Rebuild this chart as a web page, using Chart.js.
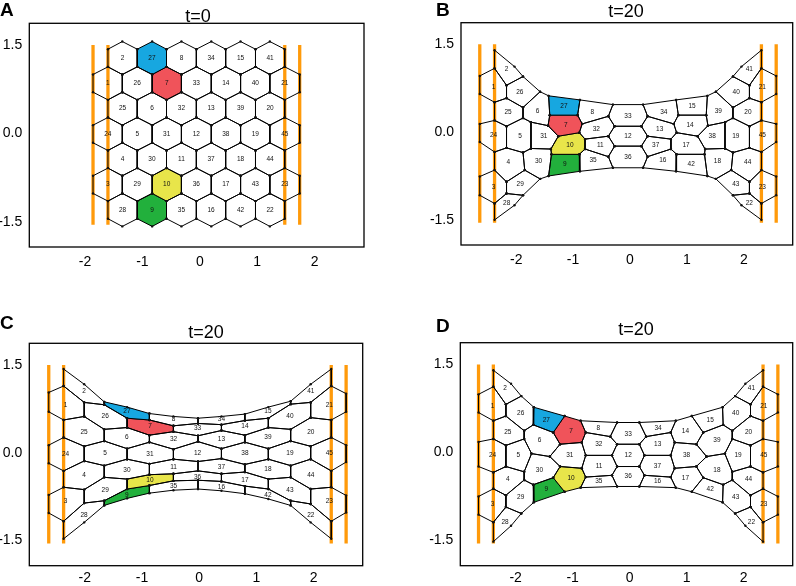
<!DOCTYPE html>
<html>
<head>
<meta charset="utf-8">
<script src="https://cdn.jsdelivr.net/npm/chart.js@4.4.1/dist/chart.umd.min.js"></script>
<style>
  body { margin: 0; background: #fff; width: 796px; height: 586px; position: relative; overflow: hidden;
         font-family: "Liberation Sans", Arial, Helvetica, sans-serif; }
  canvas { position: absolute; }
  .letter { position: absolute; font-weight: bold; font-size: 19px; line-height: 1; }
  .title { position: absolute; font-size: 18px; line-height: 1; transform: translateX(-50%); white-space: nowrap; }
</style>
</head>
<body>
<canvas id="chartA" width="396" height="293" style="left:0;top:0;width:396px;height:293px"></canvas>
<canvas id="chartB" width="400" height="293" style="left:396px;top:0;width:400px;height:293px"></canvas>
<canvas id="chartC" width="396" height="293" style="left:0;top:293px;width:396px;height:293px"></canvas>
<canvas id="chartD" width="400" height="293" style="left:396px;top:293px;width:400px;height:293px"></canvas>

<div class="letter" style="left:0;top:-0.5px">A</div>
<div class="letter" style="left:436px;top:-0.5px">B</div>
<div class="letter" style="left:0;top:312.5px">C</div>
<div class="letter" style="left:436px;top:315.5px">D</div>
<div class="title" style="left:198px;top:7px">t=0</div>
<div class="title" style="left:626px;top:1.5px">t=20</div>
<div class="title" style="left:206px;top:323px">t=20</div>
<div class="title" style="left:636px;top:320px">t=20</div>

<script>
// axes, shared by the four panels
const xTicks = [-2, -1, 0, 1, 2];
const yTicks = [-1.5, 0, 1.5];
const xRange = [-2.97, 2.86];
const yRange = [-1.93, 1.87];

// orange walls: x positions, common vertical extent
const wallTop = 1.5, wallBottom = -1.55;
const aWalls = [-1.86, -1.60, 1.48, 1.74];
const bWalls = [-2.64, -2.38, 2.31, 2.57];
const cWalls = [-2.63, -2.37, 2.31, 2.57];
const dWalls = [-2.65, -2.39, 2.34, 2.60];

// tracked cells
const markedCells = [27, 7, 10, 9];
const markedColors = ['#17a7e0', '#f0535a', '#e8e54a', '#22b03c'];

// cell numbers of the hexagonal lattice, row by row (panels A and C)
const rowLabels = [
  [2, 27, 8, 34, 15, 41],
  [1, 26, 7, 33, 14, 40, 21],
  [25, 6, 32, 13, 39, 20],
  [24, 5, 31, 12, 38, 19, 45],
  [4, 30, 11, 37, 18, 44],
  [3, 29, 10, 36, 17, 43, 23],
  [28, 9, 35, 16, 42, 22]
];

// panel A, t=0: x of the 15 vertex columns, y of the 8 zigzag vertex lines
const aColX = [-1.86, -1.60, -1.35, -1.09, -0.83, -0.58, -0.32, -0.06, 0.20, 0.45, 0.71, 0.97, 1.22, 1.48, 1.74];
const aZig = [
  [null, 1.43, 1.56, 1.43, 1.56, 1.43, 1.56, 1.43, 1.56, 1.43, 1.56, 1.43, 1.56, 1.43, null],
  [1.00, 1.13, 1.00, 1.13, 1.00, 1.13, 1.00, 1.13, 1.00, 1.13, 1.00, 1.13, 1.00, 1.13, 1.00],
  [0.70, 0.57, 0.70, 0.57, 0.70, 0.57, 0.70, 0.57, 0.70, 0.57, 0.70, 0.57, 0.70, 0.57, 0.70],
  [0.14, 0.27, 0.14, 0.27, 0.14, 0.27, 0.14, 0.27, 0.14, 0.27, 0.14, 0.27, 0.14, 0.27, 0.14],
  [-0.16, -0.29, -0.16, -0.29, -0.16, -0.29, -0.16, -0.29, -0.16, -0.29, -0.16, -0.29, -0.16, -0.29, -0.16],
  [-0.72, -0.59, -0.72, -0.59, -0.72, -0.59, -0.72, -0.59, -0.72, -0.59, -0.72, -0.59, -0.72, -0.59, -0.72],
  [-1.02, -1.15, -1.02, -1.15, -1.02, -1.15, -1.02, -1.15, -1.02, -1.15, -1.02, -1.15, -1.02, -1.15, -1.02],
  [null, -1.45, -1.58, -1.45, -1.58, -1.45, -1.58, -1.45, -1.58, -1.45, -1.58, -1.45, -1.58, -1.45, null]
];

// panel C, t=20 (same lattice, stretched)
const cColX = [-2.63, -2.37, -2.01, -1.66, -1.26, -0.87, -0.45, -0.02, 0.39, 0.80, 1.21, 1.60, 1.95, 2.31, 2.57];
const cZig = [
  [null, 1.43, 1.17, 0.87, 0.78, 0.67, 0.62, 0.59, 0.62, 0.66, 0.78, 0.88, 1.17, 1.43, null],
  [1.03, 1.14, 0.86, 0.82, 0.59, 0.56, 0.46, 0.50, 0.48, 0.55, 0.59, 0.83, 0.86, 1.14, 1.01],
  [0.70, 0.56, 0.62, 0.40, 0.43, 0.30, 0.36, 0.29, 0.38, 0.30, 0.43, 0.40, 0.60, 0.56, 0.70],
  [0.13, 0.26, 0.11, 0.20, 0.07, 0.18, 0.06, 0.19, 0.07, 0.18, 0.07, 0.20, 0.11, 0.26, 0.13],
  [-0.18, -0.31, -0.14, -0.22, -0.11, -0.19, -0.11, -0.15, -0.10, -0.20, -0.11, -0.22, -0.11, -0.31, -0.16],
  [-0.72, -0.59, -0.63, -0.42, -0.45, -0.375, -0.36, -0.31, -0.36, -0.33, -0.45, -0.42, -0.62, -0.59, -0.73],
  [-1.03, -1.17, -0.86, -0.82, -0.62, -0.56, -0.48, -0.47, -0.49, -0.57, -0.62, -0.82, -0.875, -1.17, -1.02],
  [null, -1.47, -1.19, -0.90, -0.78, -0.69, -0.64, -0.62, -0.65, -0.70, -0.79, -0.90, -1.19, -1.47, null]
];

// panel B, t=20: cell numbers and polygon vertices (x, y, x, y, ...)
const bLabels = [2, 1, 26, 25, 24, 5, 6, 31, 30, 4, 3, 29, 28, 27, 7, 10, 9, 8, 32, 11, 35, 33, 12, 36,
  41, 21, 40, 20, 45, 19, 39, 38, 18, 44, 23, 43, 22, 15, 14, 17, 42, 34, 13, 37, 16];
const bCells = [
  [-2.38, 1.40, -2.03, 1.12, -1.88, 0.95, -2.17, 0.80, -2.38, 1.09],
  [-2.64, 0.96, -2.38, 1.09, -2.17, 0.80, -2.17, 0.58, -2.38, 0.51, -2.64, 0.65],
  [-2.17, 0.80, -1.88, 0.95, -1.58, 0.69, -1.88, 0.42, -2.17, 0.58],
  [-2.38, 0.51, -2.17, 0.58, -1.88, 0.42, -1.88, 0.24, -2.17, 0.10, -2.38, 0.20],
  [-2.64, 0.14, -2.38, 0.20, -2.17, 0.10, -2.17, -0.27, -2.38, -0.34, -2.64, -0.17],
  [-2.17, 0.10, -1.88, 0.24, -1.74, 0.17, -1.74, -0.28, -1.88, -0.35, -2.17, -0.27],
  [-1.58, 0.69, -1.43, 0.62, -1.41, 0.29, -1.44, 0.11, -1.74, 0.17, -1.88, 0.24, -1.88, 0.42],
  [-1.74, 0.17, -1.44, 0.11, -1.26, -0.07, -1.39, -0.29, -1.74, -0.28],
  [-1.74, -0.28, -1.39, -0.29, -1.38, -0.38, -1.43, -0.75, -1.58, -0.80, -1.85, -0.65, -1.88, -0.35],
  [-2.38, -0.34, -2.17, -0.27, -1.88, -0.35, -1.85, -0.65, -2.17, -0.85, -2.38, -0.65],
  [-2.64, -0.76, -2.38, -0.65, -2.17, -0.85, -2.17, -1.05, -2.38, -1.22, -2.64, -1.08],
  [-2.17, -0.85, -1.85, -0.65, -1.58, -0.80, -1.88, -1.08, -2.17, -1.05],
  [-2.17, -1.05, -1.88, -1.08, -2.03, -1.25, -2.38, -1.50, -2.38, -1.22],
  [-1.43, 0.62, -0.88, 0.55, -0.92, 0.29, -1.41, 0.29],
  [-1.41, 0.29, -0.92, 0.29, -0.84, 0.14, -0.89, -0.01, -1.26, -0.07, -1.44, 0.11],
  [-1.26, -0.07, -0.89, -0.01, -0.79, -0.12, -0.79, -0.29, -0.89, -0.38, -1.38, -0.38, -1.39, -0.29],
  [-1.38, -0.38, -0.89, -0.38, -0.88, -0.67, -1.43, -0.75],
  [-0.92, 0.29, -0.88, 0.55, -0.30, 0.47, -0.38, 0.27, -0.84, 0.14],
  [-0.84, 0.14, -0.38, 0.27, -0.27, 0.10, -0.38, -0.07, -0.79, -0.12, -0.89, -0.01],
  [-0.79, -0.12, -0.38, -0.07, -0.27, -0.24, -0.38, -0.42, -0.79, -0.29],
  [-0.79, -0.29, -0.38, -0.42, -0.30, -0.61, -0.88, -0.67, -0.89, -0.38],
  [-0.30, 0.47, 0.23, 0.47, 0.31, 0.27, 0.20, 0.10, -0.27, 0.10, -0.38, 0.27],
  [-0.27, 0.10, 0.20, 0.10, 0.31, -0.07, 0.20, -0.24, -0.27, -0.24, -0.38, -0.07],
  [-0.27, -0.24, 0.20, -0.24, 0.31, -0.42, 0.23, -0.61, -0.30, -0.61, -0.38, -0.42],
  [2.31, 1.40, 1.96, 1.12, 1.81, 0.95, 2.10, 0.80, 2.31, 1.09],
  [2.57, 0.96, 2.31, 1.09, 2.10, 0.80, 2.10, 0.58, 2.31, 0.51, 2.57, 0.65],
  [2.10, 0.80, 1.81, 0.95, 1.51, 0.69, 1.81, 0.42, 2.10, 0.58],
  [2.31, 0.51, 2.10, 0.58, 1.81, 0.42, 1.81, 0.24, 2.10, 0.10, 2.31, 0.20],
  [2.57, 0.14, 2.31, 0.20, 2.10, 0.10, 2.10, -0.27, 2.31, -0.34, 2.57, -0.17],
  [2.10, 0.10, 1.81, 0.24, 1.67, 0.17, 1.67, -0.28, 1.81, -0.35, 2.10, -0.27],
  [1.51, 0.69, 1.36, 0.62, 1.34, 0.29, 1.37, 0.11, 1.67, 0.17, 1.81, 0.24, 1.81, 0.42],
  [1.67, 0.17, 1.37, 0.11, 1.19, -0.07, 1.32, -0.29, 1.67, -0.28],
  [1.67, -0.28, 1.32, -0.29, 1.31, -0.38, 1.36, -0.75, 1.51, -0.80, 1.78, -0.65, 1.81, -0.35],
  [2.31, -0.34, 2.10, -0.27, 1.81, -0.35, 1.78, -0.65, 2.10, -0.85, 2.31, -0.65],
  [2.57, -0.76, 2.31, -0.65, 2.10, -0.85, 2.10, -1.05, 2.31, -1.22, 2.57, -1.08],
  [2.10, -0.85, 1.78, -0.65, 1.51, -0.80, 1.81, -1.08, 2.10, -1.05],
  [2.10, -1.05, 1.81, -1.08, 1.96, -1.25, 2.31, -1.50, 2.31, -1.22],
  [1.36, 0.62, 0.81, 0.55, 0.85, 0.29, 1.34, 0.29],
  [1.34, 0.29, 0.85, 0.29, 0.77, 0.14, 0.82, -0.01, 1.19, -0.07, 1.37, 0.11],
  [1.19, -0.07, 0.82, -0.01, 0.72, -0.12, 0.72, -0.29, 0.82, -0.38, 1.31, -0.38, 1.32, -0.29],
  [1.31, -0.38, 0.82, -0.38, 0.81, -0.67, 1.36, -0.75],
  [0.85, 0.29, 0.81, 0.55, 0.23, 0.47, 0.31, 0.27, 0.77, 0.14],
  [0.77, 0.14, 0.31, 0.27, 0.20, 0.10, 0.31, -0.07, 0.72, -0.12, 0.82, -0.01],
  [0.72, -0.12, 0.31, -0.07, 0.20, -0.24, 0.31, -0.42, 0.72, -0.29],
  [0.72, -0.29, 0.31, -0.42, 0.23, -0.61, 0.81, -0.67, 0.82, -0.38]
];

// panel D, t=20
const dLabels = [2, 1, 26, 25, 24, 5, 6, 27, 7, 31, 30, 10, 9, 4, 29, 3, 28, 8, 32, 11, 35, 33, 12, 36,
  41, 21, 40, 20, 45, 19, 39, 15, 14, 38, 18, 17, 42, 44, 43, 23, 22, 34, 13, 37, 16];
const dCells = [
  [-2.39, 1.40, -2.08, 1.17, -1.90, 0.96, -2.17, 0.82, -2.39, 1.12],
  [-2.65, 0.99, -2.39, 1.12, -2.17, 0.82, -2.17, 0.62, -2.39, 0.54, -2.65, 0.68],
  [-2.17, 0.82, -1.90, 0.96, -1.68, 0.77, -1.69, 0.47, -1.85, 0.37, -2.17, 0.62],
  [-2.39, 0.54, -2.17, 0.62, -1.85, 0.37, -1.85, 0.23, -2.17, 0.12, -2.39, 0.23],
  [-2.65, 0.18, -2.39, 0.23, -2.17, 0.12, -2.17, -0.24, -2.39, -0.34, -2.65, -0.24],
  [-2.17, 0.12, -1.85, 0.23, -1.72, -0.02, -1.85, -0.33, -2.17, -0.24],
  [-1.69, 0.47, -1.34, 0.34, -1.22, 0.14, -1.40, -0.07, -1.72, -0.02, -1.85, 0.23, -1.85, 0.37],
  [-1.68, 0.77, -1.14, 0.62, -1.34, 0.34, -1.69, 0.47],
  [-1.14, 0.62, -0.86, 0.54, -0.77, 0.34, -0.84, 0.17, -1.22, 0.14, -1.34, 0.34],
  [-1.22, 0.14, -0.84, 0.17, -0.77, -0.05, -0.84, -0.27, -1.22, -0.24, -1.40, -0.07],
  [-1.72, -0.02, -1.40, -0.07, -1.22, -0.24, -1.34, -0.43, -1.69, -0.55, -1.85, -0.47, -1.85, -0.33],
  [-1.22, -0.24, -0.84, -0.27, -0.77, -0.42, -0.86, -0.60, -1.14, -0.67, -1.34, -0.43],
  [-1.69, -0.55, -1.34, -0.43, -1.14, -0.67, -1.68, -0.85],
  [-2.39, -0.34, -2.17, -0.24, -1.85, -0.33, -1.85, -0.47, -2.17, -0.73, -2.39, -0.62],
  [-2.17, -0.73, -1.85, -0.47, -1.69, -0.55, -1.68, -0.85, -1.90, -1.04, -2.17, -0.93],
  [-2.65, -0.75, -2.39, -0.62, -2.17, -0.73, -2.17, -0.93, -2.39, -1.19, -2.65, -1.06],
  [-2.17, -0.93, -1.90, -1.04, -2.08, -1.25, -2.39, -1.52, -2.39, -1.19],
  [-0.86, 0.54, -0.22, 0.51, -0.34, 0.27, -0.77, 0.34],
  [-0.77, 0.34, -0.34, 0.27, -0.22, 0.14, -0.31, -0.05, -0.77, -0.05, -0.84, 0.17],
  [-0.77, -0.05, -0.31, -0.05, -0.22, -0.24, -0.31, -0.39, -0.77, -0.42, -0.84, -0.27],
  [-0.77, -0.42, -0.31, -0.39, -0.22, -0.58, -0.86, -0.60],
  [-0.22, 0.51, 0.17, 0.51, 0.29, 0.27, 0.17, 0.14, -0.22, 0.14, -0.34, 0.27],
  [-0.22, 0.14, 0.17, 0.14, 0.26, -0.05, 0.17, -0.24, -0.22, -0.24, -0.31, -0.05],
  [-0.22, -0.24, 0.17, -0.24, 0.26, -0.39, 0.17, -0.58, -0.22, -0.58, -0.31, -0.39],
  [2.34, 1.40, 2.03, 1.17, 1.85, 0.96, 2.12, 0.82, 2.34, 1.12],
  [2.60, 0.99, 2.34, 1.12, 2.12, 0.82, 2.12, 0.62, 2.34, 0.54, 2.60, 0.68],
  [2.12, 0.82, 1.85, 0.96, 1.63, 0.77, 1.64, 0.47, 1.80, 0.37, 2.12, 0.62],
  [2.34, 0.54, 2.12, 0.62, 1.80, 0.37, 1.80, 0.23, 2.12, 0.12, 2.34, 0.23],
  [2.60, 0.18, 2.34, 0.23, 2.12, 0.12, 2.12, -0.24, 2.34, -0.34, 2.60, -0.24],
  [2.12, 0.12, 1.80, 0.23, 1.67, -0.02, 1.80, -0.33, 2.12, -0.24],
  [1.64, 0.47, 1.29, 0.34, 1.17, 0.14, 1.35, -0.07, 1.67, -0.02, 1.80, 0.23, 1.80, 0.37],
  [1.63, 0.77, 1.09, 0.62, 1.29, 0.34, 1.64, 0.47],
  [1.09, 0.62, 0.81, 0.54, 0.72, 0.34, 0.79, 0.17, 1.17, 0.14, 1.29, 0.34],
  [1.17, 0.14, 0.79, 0.17, 0.72, -0.05, 0.79, -0.27, 1.17, -0.24, 1.35, -0.07],
  [1.67, -0.02, 1.35, -0.07, 1.17, -0.24, 1.29, -0.43, 1.64, -0.55, 1.80, -0.47, 1.80, -0.33],
  [1.17, -0.24, 0.79, -0.27, 0.72, -0.42, 0.81, -0.60, 1.09, -0.67, 1.29, -0.43],
  [1.64, -0.55, 1.29, -0.43, 1.09, -0.67, 1.63, -0.85],
  [2.34, -0.34, 2.12, -0.24, 1.80, -0.33, 1.80, -0.47, 2.12, -0.73, 2.34, -0.62],
  [2.12, -0.73, 1.80, -0.47, 1.64, -0.55, 1.63, -0.85, 1.85, -1.04, 2.12, -0.93],
  [2.60, -0.75, 2.34, -0.62, 2.12, -0.73, 2.12, -0.93, 2.34, -1.19, 2.60, -1.06],
  [2.12, -0.93, 1.85, -1.04, 2.03, -1.25, 2.34, -1.52, 2.34, -1.19],
  [0.81, 0.54, 0.17, 0.51, 0.29, 0.27, 0.72, 0.34],
  [0.72, 0.34, 0.29, 0.27, 0.17, 0.14, 0.26, -0.05, 0.72, -0.05, 0.79, 0.17],
  [0.72, -0.05, 0.26, -0.05, 0.17, -0.24, 0.26, -0.39, 0.72, -0.42, 0.79, -0.27],
  [0.72, -0.42, 0.26, -0.39, 0.17, -0.58, 0.81, -0.60]
];

const family = '"Liberation Sans", Arial, Helvetica, sans-serif';

// lattice cell (row r, centre column c) -> hexagon from the zigzag lines r and r+1
function latticeCells(colX, zig) {
  const cells = [];
  rowLabels.forEach((labels, r) => {
    labels.forEach((label, i) => {
      const c = r % 2 === 0 ? 2 + 2 * i : 1 + 2 * i;
      const idx = [[c - 1, r], [c, r], [c + 1, r], [c + 1, r + 1], [c, r + 1], [c - 1, r + 1]];
      cells.push({ label, pts: idx.map(([k, j]) => ({ x: colX[k], y: zig[j][k] })) });
    });
  });
  return cells;
}

function polyCells(labels, polys) {
  return labels.map((label, i) => {
    const p = polys[i], pts = [];
    for (let j = 0; j < p.length; j += 2) pts.push({ x: p[j], y: p[j + 1] });
    return { label, pts };
  });
}

function buildDatasets(cells, walls) {
  const ds = [];
  walls.forEach(x => ds.push({
    data: [{ x, y: wallBottom }, { x, y: wallTop }],
    showLine: true, borderColor: '#ff9a0a', borderWidth: 3.3, pointRadius: 0, order: 3
  }));
  cells.forEach(c => {
    const m = markedCells.indexOf(c.label);
    ds.push({
      data: c.pts.concat([c.pts[0]]),
      showLine: true, borderColor: '#000', borderWidth: 1, pointRadius: 0,
      fill: m >= 0 ? 'shape' : false,
      backgroundColor: m >= 0 ? markedColors[m] : 'rgba(0,0,0,0)',
      order: m >= 0 ? 2 : 1
    });
  });
  const verts = [];
  cells.forEach(c => verts.push(...c.pts));
  ds.push({ data: verts, showLine: false, pointRadius: 1.2, pointBorderWidth: 0,
            pointBackgroundColor: '#111', order: 0 });
  return ds;
}

const frame = {
  id: 'frame',
  afterDraw(chart) {
    const { ctx, chartArea: a } = chart;
    ctx.save();
    ctx.strokeStyle = '#000';
    ctx.lineWidth = 1.3;
    ctx.strokeRect(a.left, a.top, a.right - a.left, a.bottom - a.top);
    ctx.restore();
  }
};

function cellNumbers(cells) {
  return {
    id: 'cellNumbers',
    afterDatasetsDraw(chart) {
      const { ctx, scales } = chart;
      ctx.save();
      ctx.font = '6.5px ' + family;
      ctx.fillStyle = '#111';
      ctx.textAlign = 'center';
      ctx.textBaseline = 'middle';
      cells.forEach(c => {
        const n = c.pts.length;
        const cx = c.pts.reduce((s, p) => s + p.x, 0) / n;
        const cy = c.pts.reduce((s, p) => s + p.y, 0) / n;
        ctx.fillText(String(c.label), scales.x.getPixelForValue(cx), scales.y.getPixelForValue(cy));
      });
      ctx.restore();
    }
  };
}

function makeChart(id, cells, walls, pad, yw, xh, xpad) {
  new Chart(document.getElementById(id), {
    type: 'scatter',
    data: { datasets: buildDatasets(cells, walls) },
    options: {
      responsive: false,
      animation: false,
      events: [],
      layout: { padding: pad, autoPadding: false },
      plugins: { legend: { display: false }, tooltip: { enabled: false } },
      scales: {
        x: {
          type: 'linear', min: xRange[0], max: xRange[1],
          afterBuildTicks: s => { s.ticks = xTicks.map(v => ({ value: v })); },
          afterFit: s => { s.height = xh; },
          grid: { display: false, drawTicks: false },
          border: { display: false },
          ticks: { autoSkip: false, maxRotation: 0, padding: xpad, color: '#000',
                   font: { size: 14, family }, callback: v => String(v) }
        },
        y: {
          type: 'linear', min: yRange[0], max: yRange[1],
          afterBuildTicks: s => { s.ticks = yTicks.map(v => ({ value: v })); },
          afterFit: s => { s.width = yw; },
          grid: { display: false, drawTicks: false },
          border: { display: false },
          ticks: { autoSkip: false, padding: 7, color: '#000',
                   font: { size: 14, family }, callback: v => Number(v).toFixed(1) }
        }
      }
    },
    plugins: [frame, cellNumbers(cells)]
  });
}

makeChart('chartA', latticeCells(aColX, aZig), aWalls, { left: 0, top: 23.3, right: 32, bottom: 16 }, 29.3, 30, 7);
makeChart('chartB', polyCells(bLabels, bCells), bWalls, { left: 0, top: 22.7, right: 3.3, bottom: 18 }, 65, 30, 7);
makeChart('chartC', latticeCells(cColX, cZig), cWalls, { left: 0, top: 50.3, right: 33.3, bottom: 2.3 }, 29.3, 18, 4);
makeChart('chartD', polyCells(dLabels, dCells), dWalls, { left: 0, top: 49.7, right: 3.3, bottom: 2.3 }, 64.3, 18, 4);
</script>
</body>
</html>
